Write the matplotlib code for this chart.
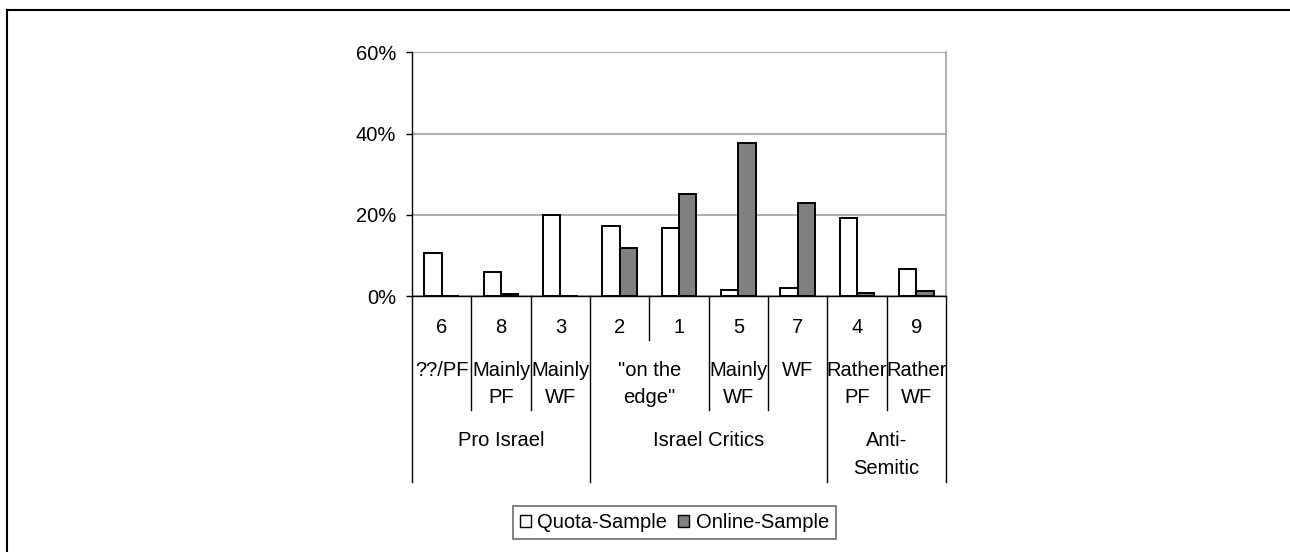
import matplotlib
matplotlib.use("Agg")
import matplotlib.pyplot as plt
from matplotlib.patches import Patch
from matplotlib.transforms import blended_transform_factory
import numpy as np

plt.rcParams['font.family'] = ['Liberation Sans', 'DejaVu Sans']

# ---- data ----
codes = ["6", "8", "3", "2", "1", "5", "7", "4", "9"]
quota = [10.5, 5.8, 20.0, 17.2, 16.8, 1.6, 2.0, 19.2, 6.7]
online = [0.0, 0.4, 0.0, 11.7, 25.1, 37.7, 22.8, 0.8, 1.2]
level2_labels = ["??/PF", "Mainly\nPF", "Mainly\nWF", "\"on the\nedge\"", "Mainly\nWF", "WF", "Rather\nPF", "Rather\nWF"]
level2_spans = [1, 1, 1, 2, 1, 1, 1, 1]
group_labels = ["Pro Israel", "Israel Critics", "Anti-\nSemitic"]
group_spans = [3, 4, 2]
yticks = [0, 20, 40, 60]
ytick_labels = ["0%", "20%", "40%", "60%"]
series_names = ["Quota-Sample", "Online-Sample"]

FS = 14.5
W, H = 1290, 552
fig = plt.figure(figsize=(W / 100, H / 100), dpi=100)

def fy(px):
    return 1 - px / H

def fx(px):
    return px / W

# outer frame (only top and left visible)
fig.add_artist(plt.Line2D([fx(7), fx(7)], [fy(10), 0], color='black', lw=1.5, transform=fig.transFigure))
fig.add_artist(plt.Line2D([fx(7), 1], [fy(10), fy(10)], color='black', lw=1.5, transform=fig.transFigure))

ax_l, ax_r, ax_t, ax_b = 412, 946, 52.3, 296
ax = fig.add_axes([fx(ax_l), fy(ax_b), fx(ax_r - ax_l), (ax_b - ax_t) / H])

n = len(codes)
x = np.arange(n)
bw = 0.29
ax.bar(x - bw / 2, quota, bw, color='white', edgecolor='black', linewidth=1.4, zorder=3)
ax.bar(x + bw / 2, online, bw, color='#808080', edgecolor='black', linewidth=1.4, zorder=3)

ax.set_xlim(-0.5, n - 0.5)
ax.set_ylim(0, 60)
ax.set_yticks(yticks)
ax.set_yticklabels(ytick_labels, fontsize=FS)
ax.tick_params(axis='y', direction='out', length=4.5, width=1, pad=7, colors='black')
ax.tick_params(axis='x', bottom=False, labelbottom=False)
ax.yaxis.grid(True, color='#999999', lw=1.1, zorder=0)
ax.set_axisbelow(True)
ax.spines['top'].set_visible(False)
ax.spines['right'].set_color('#999999')
ax.spines['right'].set_linewidth(1.1)
ax.spines['left'].set_color('black')
ax.spines['left'].set_linewidth(1)
ax.spines['bottom'].set_color('black')
ax.spines['bottom'].set_linewidth(1)
ax.spines['bottom'].set_zorder(4)

# multi-level category axis
tr = blended_transform_factory(ax.transData, fig.transFigure)
d1, d2, d3 = 340, 410, 482

def boundaries(spans):
    b = [0]
    for s in spans:
        b.append(b[-1] + s)
    return b

b2 = set(boundaries(level2_spans))
b3 = set(boundaries(group_spans))
for i in range(n + 1):
    if i in b3:
        d = d3
    elif i in b2:
        d = d2
    else:
        d = d1
    ax.plot([i - 0.5, i - 0.5], [fy(ax_b), fy(d)], color='black', lw=1, transform=tr, clip_on=False)

STEP = 27

def put_label(xc, base_px, label):
    for k, line in enumerate(label.split("\n")):
        ax.text(xc, fy(base_px + k * STEP), line, ha='center', va='baseline',
                fontsize=FS, transform=tr)

for i, c in enumerate(codes):
    put_label(i, 333, c)

start = 0
for lab, s in zip(level2_labels, level2_spans):
    put_label(start + (s - 1) / 2, 376, lab)
    start += s

start = 0
for lab, s in zip(group_labels, group_spans):
    put_label(start + (s - 1) / 2, 446.5, lab)
    start += s

handles = [Patch(facecolor='white', edgecolor='black', lw=1),
           Patch(facecolor='#808080', edgecolor='black', lw=1)]
leg = fig.legend(handles, series_names, loc='center',
                 bbox_to_anchor=(fx(674.5), fy(522.5)), ncol=2, fontsize=FS,
                 frameon=True, fancybox=False, edgecolor='#555555',
                 handlelength=0.55, handleheight=0.55, handletextpad=0.3, columnspacing=0.55,
                 borderpad=0.35, borderaxespad=0)
leg.get_frame().set_linewidth(1.3)

fig.savefig("out.png", dpi=100)
